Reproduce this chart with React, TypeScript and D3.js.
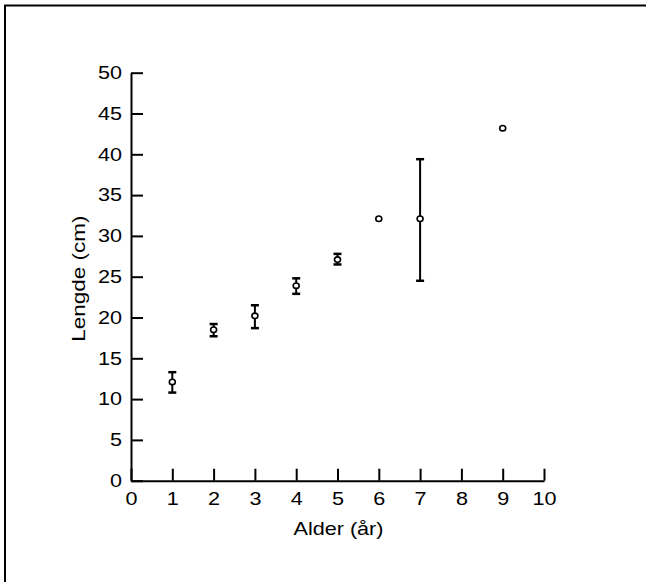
import * as d3 from "d3";
import React, { useEffect, useRef } from "react";

// data
const ages = [1, 2, 3, 4, 5, 6, 7, 9];
const meanLength = [12.1, 18.5, 20.2, 23.9, 27.1, 32.1, 32.1, 43.2];
const lowLength = [10.8, 17.7, 18.7, 22.9, 26.5, 32.1, 24.5, 43.2];
const highLength = [13.3, 19.2, 21.5, 24.8, 27.8, 32.1, 39.4, 43.2];
const xTicks = [0, 1, 2, 3, 4, 5, 6, 7, 8, 9, 10];
const yTicks = [0, 5, 10, 15, 20, 25, 30, 35, 40, 45, 50];
const xAxisLabel = "Alder (år)";
const yAxisLabel = "Lengde (cm)";

export default function App() {
  const svgRef = useRef<SVGSVGElement>(null);
  const width = 646;
  const height = 582;
  const margin = { top: 72.7, left: 131, right: 102, bottom: 101.3 };

  useEffect(() => {
    const svg = d3.select(svgRef.current);
    svg.selectAll("*").remove();

    const innerWidth = width - margin.left - margin.right;
    const innerHeight = height - margin.top - margin.bottom;
    const font = "'Liberation Sans', Arial, Helvetica, sans-serif";
    const stretch = 1.2; // the original lettering is wide

    // frame (left and top only)
    svg
      .append("path")
      .attr("d", `M5,${height} V5.5 H${width}`)
      .attr("fill", "none")
      .attr("stroke", "#000")
      .attr("stroke-width", 2);

    const xScale = d3.scaleLinear().domain([0, 10]).range([0, innerWidth]);
    const yScale = d3.scaleLinear().domain([0, 50]).range([innerHeight, 0]);

    const g = svg
      .append("g")
      .attr("transform", `translate(${margin.left}, ${margin.top})`);

    // ticks point inward
    const xAxis = d3
      .axisBottom(xScale)
      .tickValues(xTicks)
      .tickSize(-12)
      .tickSizeOuter(0)
      .tickPadding(12);
    const yAxis = d3
      .axisLeft(yScale)
      .tickValues(yTicks)
      .tickSize(-12)
      .tickSizeOuter(0)
      .tickPadding(9);

    const xAxisG = g
      .append("g")
      .attr("transform", `translate(0, ${innerHeight})`)
      .call(xAxis);
    const yAxisG = g.append("g").call(yAxis);

    [xAxisG, yAxisG].forEach((ax) => {
      ax.selectAll("path, line").attr("stroke", "#000").attr("stroke-width", 2);
      ax.selectAll("text")
        .attr("fill", "#000")
        .style("font-family", font)
        .style("font-size", "18px");
    });
    xAxisG.selectAll("text").attr("transform", `scale(${stretch},1)`);
    yAxisG
      .selectAll("text")
      .attr("x", -9 / stretch)
      .attr("transform", `scale(${stretch},1)`);

    svg
      .append("text")
      .attr(
        "transform",
        `translate(${margin.left + innerWidth / 2 + 1}, 535) scale(${stretch},1)`
      )
      .attr("text-anchor", "middle")
      .style("font-family", font)
      .style("font-size", "18px")
      .text(xAxisLabel);

    svg
      .append("text")
      .attr(
        "transform",
        `translate(85, ${margin.top + innerHeight / 2 + 2}) rotate(-90) scale(${stretch + 0.05},1)`
      )
      .attr("text-anchor", "middle")
      .style("font-family", font)
      .style("font-size", "18px")
      .text(yAxisLabel);

    const points = ages.map((a, i) => ({
      age: a,
      mean: meanLength[i],
      low: lowLength[i],
      high: highLength[i],
    }));

    // error bars
    const bars = g.append("g").attr("stroke", "#000").attr("stroke-width", 2);
    points
      .filter((d) => d.high - d.low > 0.5)
      .forEach((d) => {
        const x = xScale(d.age);
        bars
          .append("line")
          .attr("x1", x)
          .attr("x2", x)
          .attr("y1", yScale(d.low))
          .attr("y2", yScale(d.high));
        [d.low, d.high].forEach((v) => {
          bars
            .append("line")
            .attr("x1", x - 4)
            .attr("x2", x + 4)
            .attr("y1", yScale(v))
            .attr("y2", yScale(v))
            .attr("stroke-width", 2.5);
        });
      });

    // points
    g.append("g")
      .selectAll("ellipse")
      .data(points)
      .join("ellipse")
      .attr("cx", (d) => xScale(d.age))
      .attr("cy", (d) => yScale(d.mean))
      .attr("rx", 3)
      .attr("ry", 2.7)
      .attr("fill", "#fff")
      .attr("stroke", "#000")
      .attr("stroke-width", 1.6);
  }, []);

  return (
    <svg
      ref={svgRef}
      width={width}
      height={height}
      style={{ position: "absolute", left: 0, top: 0, background: "#fff" }}
    ></svg>
  );
}
